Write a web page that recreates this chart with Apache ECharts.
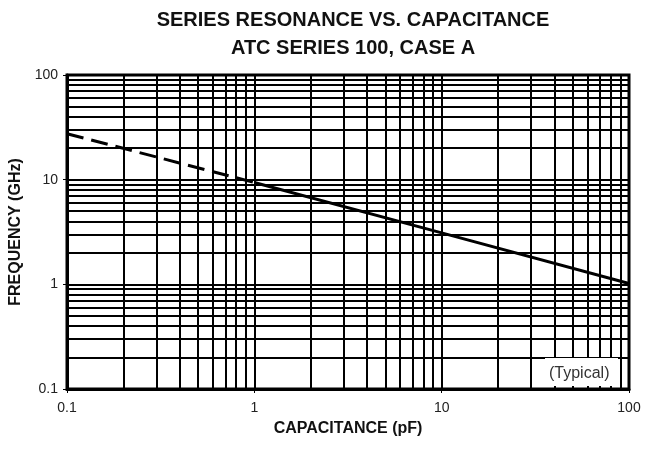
<!DOCTYPE html>
<html>
<head>
<meta charset="utf-8">
<script src="https://cdn.jsdelivr.net/npm/echarts@6/dist/echarts.min.js"></script>
<style>
  html, body { margin: 0; padding: 0; background: #fff; }
  #chart { width: 648px; height: 452px; }
</style>
</head>
<body>
<div id="chart"></div>
<script>
// capacitance (pF) vs series resonance (GHz)
const dashedCap = [0.1, 1];
const dashedFreq = [27.5, 9.4];
const solidCap = [1, 10, 100];
const solidFreq = [9.4, 3.1, 1.02];

// log grid lines between decades
const xMinorLines = [0.2, 0.3, 0.4, 0.5, 0.6, 0.7, 0.8, 0.9, 2, 3, 4, 5, 6, 7, 8, 9, 20, 30, 40, 50, 60, 70, 80, 90];
const yMinorLines = [0.2, 0.3, 0.4, 0.5, 0.6, 0.7, 0.8, 0.9, 2, 3, 4, 5, 6, 7, 8, 9, 20, 30, 40, 50, 60, 70, 80, 90];

const boldFont = '"Liberation Sans", Arial, sans-serif';
const labelFont = '"Liberation Sans", Arial, sans-serif';

let myChart = echarts.init(document.getElementById('chart'));

const gridStyle = { color: '#000', width: 2, type: 'solid' };

myChart.setOption({
  animation: false,
  title: {
    text: 'SERIES RESONANCE VS. CAPACITANCE\nATC SERIES 100, CASE A',
    left: 348,
    top: 1,
    textAlign: 'center',
    textStyle: {
      fontFamily: boldFont,
      fontWeight: 'bold',
      fontSize: 20,
      lineHeight: 28,
      color: '#111'
    }
  },
  grid: { left: 67, right: 19, top: 75, bottom: 63, outerBoundsMode: 'none' },
  xAxis: {
    type: 'log',
    logBase: 10,
    min: 0.1,
    max: 100,
    name: 'CAPACITANCE (pF)',
    nameLocation: 'middle',
    nameGap: 32,
    nameTextStyle: { fontFamily: boldFont, fontWeight: 'bold', fontSize: 16, color: '#111' },
    axisLine: { lineStyle: { color: '#000', width: 3 } },
    axisTick: { show: true, length: 4, lineStyle: { color: '#000', width: 1 } },
    axisLabel: {
      fontFamily: labelFont, fontSize: 14, color: '#222', margin: 12,
      formatter: v => String(v)
    },
    splitLine: { show: true, lineStyle: gridStyle }
  },
  yAxis: {
    type: 'log',
    logBase: 10,
    min: 0.1,
    max: 100,
    name: 'FREQUENCY (GHz)',
    nameLocation: 'middle',
    nameGap: 42,
    nameRotate: 90,
    nameTextStyle: { fontFamily: boldFont, fontWeight: 'bold', fontSize: 16, color: '#111' },
    axisLine: { lineStyle: { color: '#000', width: 3 } },
    axisTick: { show: true, length: 4, lineStyle: { color: '#000', width: 1 } },
    axisLabel: {
      fontFamily: labelFont, fontSize: 14, color: '#222', margin: 9,
      formatter: v => String(v)
    },
    splitLine: { show: true, lineStyle: gridStyle }
  },
  graphic: [
    {
      type: 'rect',
      shape: { x: 0, y: 0, width: 73, height: 28 },
      left: 545, top: 358,
      style: { fill: '#fff' },
      z: 10
    },
    {
      type: 'text',
      left: 549, top: 366,
      style: {
        text: '(Typical)',
        font: '16px "Liberation Sans", Arial, sans-serif',
        fill: '#333'
      },
      z: 11
    },
    {
      // frame, top and right edges
      type: 'rect',
      shape: { x: 67, y: 75, width: 562, height: 314 },
      style: { fill: 'none', stroke: '#000', lineWidth: 3 },
      z: 12
    }
  ],
  series: [
    {
      type: 'line',
      data: dashedCap.map((c, i) => [c, dashedFreq[i]]),
      showSymbol: false,
      lineStyle: { color: '#000', width: 3, type: [17, 8] },
      z: 5,
      markLine: {
        silent: true,
        symbol: 'none',
        label: { show: false },
        lineStyle: gridStyle,
        z: 1,
        data: xMinorLines.map(v => ({ xAxis: v })).concat(yMinorLines.map(v => ({ yAxis: v })))
      }
    },
    {
      type: 'line',
      data: solidCap.map((c, i) => [c, solidFreq[i]]),
      showSymbol: false,
      lineStyle: { color: '#000', width: 3 },
      z: 5
    }
  ]
});
</script>
</body>
</html>
